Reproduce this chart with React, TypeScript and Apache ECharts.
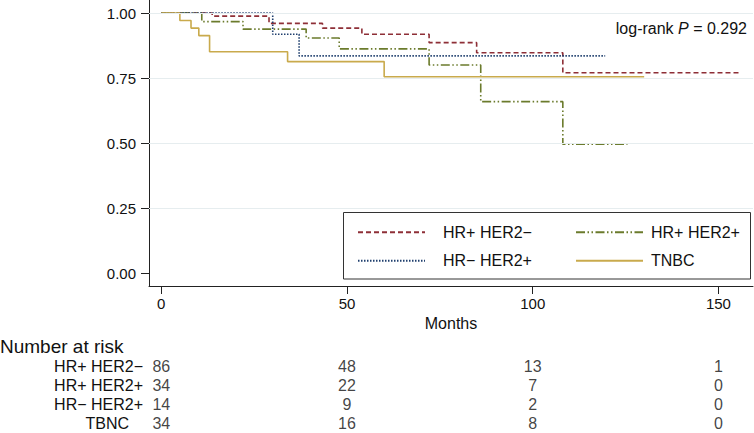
import React, { useEffect, useRef } from 'react';
import * as echarts from 'echarts';

// ---- data ----
const groupNames = ['HR+ HER2−', 'HR+ HER2+', 'HR− HER2+', 'TNBC'];

const hrPosHer2NegTime = [0, 13.7, 29.0, 43.4, 54.0, 72.1, 84.9, 108.1, 155.8];
const hrPosHer2NegSurv = [1, 0.988, 0.96, 0.942, 0.918, 0.886, 0.847, 0.77, 0.77];

const hrPosHer2PosTime = [0, 10.9, 22.0, 39.0, 47.9, 72.1, 86.0, 108.1, 125.5];
const hrPosHer2PosSurv = [1, 0.967, 0.938, 0.904, 0.862, 0.8, 0.659, 0.495, 0.495];

const hrNegHer2PosTime = [0, 30.0, 37.1, 119.5];
const hrNegHer2PosSurv = [1, 0.918, 0.835, 0.835];

const tnbcTime = [0, 5.0, 8.0, 10.1, 13.0, 34.0, 60.0, 130.0];
const tnbcSurv = [1, 0.971, 0.942, 0.913, 0.851, 0.813, 0.755, 0.755];

const xTicks = [0, 50, 100, 150];
const yTicks = [0, 0.25, 0.5, 0.75, 1];
const yGridLines = [0.25, 0.5, 0.75, 1];

const riskRows = ['HR+ HER2−', 'HR+ HER2+', 'HR− HER2+', 'TBNC'];
const riskTimes = [0, 50, 100, 150];
const riskHrPosHer2Neg = [86, 48, 13, 1];
const riskHrPosHer2Pos = [34, 22, 7, 0];
const riskHrNegHer2Pos = [14, 9, 2, 0];
const riskTnbc = [34, 16, 8, 0];

const pValueText = '0.292';

// ---- styles ----
const FONT = "'Liberation Sans', Arial, Helvetica, sans-serif";
const colors = ['#8e2f37', '#6b7b2c', '#1f3f6e', '#c9aa4c'];
const dashes: any[] = [[5, 3], [9, 2.5, 1.5, 2.5, 1.5, 2.5], [1.5, 1.5], 'solid'];

const X_MIN = -3.31;
const X_MAX = 159.3;

export default function App() {
  const ref = useRef<HTMLDivElement>(null);
  useEffect(() => {
    if (!ref.current) return;
    const chart = echarts.init(ref.current, null, { renderer: 'svg' });

    const curves = [
      [hrPosHer2NegTime, hrPosHer2NegSurv],
      [hrPosHer2PosTime, hrPosHer2PosSurv],
      [hrNegHer2PosTime, hrNegHer2PosSurv],
      [tnbcTime, tnbcSurv],
    ];
    const riskValues = [riskHrPosHer2Neg, riskHrPosHer2Pos, riskHrNegHer2Pos, riskTnbc];

    const curveSeries = curves.map(([t, s], i) => ({
      name: groupNames[i],
      type: 'line',
      step: 'end',
      symbol: 'none',
      showSymbol: false,
      xAxisIndex: 0,
      yAxisIndex: 0,
      z: 3,
      data: t.map((tv, j) => [tv, s[j]]),
      lineStyle: { color: colors[i], width: 1.6, type: dashes[i] },
      itemStyle: { color: colors[i] },
    }));

    const riskData: any[] = [];
    riskRows.forEach((row, r) => {
      riskTimes.forEach((t, k) => {
        riskData.push([t, row, riskValues[r][k]]);
      });
    });

    const legendCommon = {
      orient: 'vertical',
      top: 224.3,
      padding: 0,
      itemWidth: 67,
      itemHeight: 16,
      itemGap: 12.4,
      z: 10,
      selectedMode: false,
      itemStyle: { opacity: 0 },
    };

    const option: any = {
      animation: false,
      textStyle: { fontFamily: FONT },
      grid: [
        { left: 149, top: 0, width: 604, height: 286 },
        { left: 149, top: 357.2, width: 604, height: 75.6 },
      ],
      xAxis: [
        {
          type: 'value',
          gridIndex: 0,
          min: X_MIN,
          max: X_MAX,
          name: 'Months',
          nameLocation: 'middle',
          nameGap: 29,
          nameTextStyle: { fontSize: 16, color: '#111', fontFamily: FONT },
          axisLine: { show: true, onZero: false, lineStyle: { color: '#222', width: 1 } },
          axisTick: { show: true, length: 8, customValues: xTicks, lineStyle: { color: '#222' } },
          axisLabel: {
            customValues: xTicks,
            fontSize: 15,
            color: '#111',
            margin: 10,
            formatter: (v: number) => String(v),
          },
          splitLine: { show: false },
        },
        {
          type: 'value',
          gridIndex: 1,
          min: X_MIN,
          max: X_MAX,
          show: false,
        },
      ],
      yAxis: [
        {
          type: 'value',
          gridIndex: 0,
          min: -0.05,
          max: 1.05,
          axisLine: { show: true, onZero: false, lineStyle: { color: '#222', width: 1 } },
          axisTick: { show: true, length: 8, customValues: yTicks, lineStyle: { color: '#222' } },
          axisLabel: {
            customValues: yTicks,
            fontSize: 15,
            color: '#111',
            margin: 13,
            formatter: (v: number) => v.toFixed(2),
          },
          splitLine: { show: false },
        },
        {
          type: 'category',
          gridIndex: 1,
          inverse: true,
          data: riskRows,
          axisLine: { show: false },
          axisTick: { show: false },
          splitLine: { show: false },
          axisLabel: {
            interval: 0,
            fontSize: 16,
            color: '#111',
            margin: 6,
            formatter: (v: string) => (v === 'TBNC' ? '{t|' + v + '}' : v),
            rich: { t: { fontSize: 16, color: '#111', padding: [0, 14, 0, 0], fontFamily: FONT } },
          },
        },
      ],
      legend: [
        {
          ...legendCommon,
          left: 357,
          data: [groupNames[0], groupNames[2]],
          textStyle: { fontSize: 16, color: '#111', lineHeight: 16, padding: [0, 0, 0, 13] },
        },
        {
          ...legendCommon,
          left: 575,
          data: [groupNames[1], groupNames[3]],
          textStyle: { fontSize: 16, color: '#111', lineHeight: 16, padding: [0, 0, 0, 3] },
        },
      ],
      graphic: [
        {
          type: 'rect',
          z: 2,
          shape: { x: 343.5, y: 212.5, width: 407, height: 66.5 },
          style: { fill: '#fff', stroke: '#333', lineWidth: 1 },
          silent: true,
        },
        {
          type: 'text',
          x: 0,
          y: 346,
          style: {
            text: 'Number at risk',
            fontSize: 19,
            fontFamily: FONT,
            fill: '#111',
            verticalAlign: 'middle',
            align: 'left',
          },
        },
        {
          type: 'text',
          x: 747,
          y: 28.5,
          z: 60,
          style: {
            text: 'log-rank {i|P} = ' + pValueText,
            fontSize: 16,
            fontFamily: FONT,
            fill: '#111',
            align: 'right',
            verticalAlign: 'middle',
            rich: { i: { fontStyle: 'italic', fontSize: 16, fontFamily: FONT, fill: '#111' } },
          },
        },
      ],
      series: [
        {
          type: 'line',
          name: '__grid',
          xAxisIndex: 0,
          yAxisIndex: 0,
          data: [],
          z: 1,
          silent: true,
          markLine: {
            silent: true,
            symbol: 'none',
            label: { show: false },
            lineStyle: { color: '#e6edef', width: 1, type: 'solid' },
            data: yGridLines.map((v) => ({ yAxis: v })),
          },
        },
        ...curveSeries,
        {
          type: 'scatter',
          name: '__risk',
          xAxisIndex: 1,
          yAxisIndex: 1,
          symbolSize: 0,
          silent: true,
          data: riskData,
          label: {
            show: true,
            position: 'inside',
            fontSize: 16,
            color: '#111',
            fontFamily: FONT,
            formatter: (p: any) => String(p.value[2]),
          },
        },
      ],
    };
    chart.setOption(option);
    return () => chart.dispose();
  }, []);
  return (
    <div
      ref={ref}
      style={{ position: 'fixed', left: 0, top: 0, width: 754, height: 433, background: '#fff' }}
    />
  );
}
